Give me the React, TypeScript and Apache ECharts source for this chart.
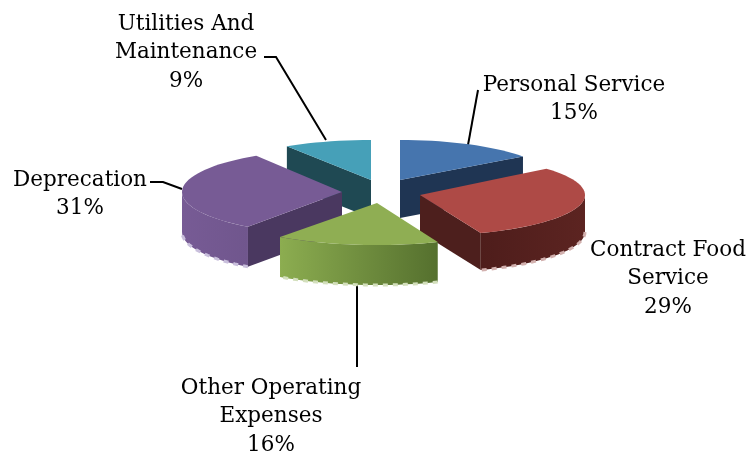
import React, { useEffect, useRef } from "react";
import * as echarts from "echarts";

const categories = ["Personal Service", "Contract Food Service", "Other Operating Expenses", "Deprecation", "Utilities And Maintenance"];
const labelLines = [
  ["Personal Service"],
  ["Contract Food", "Service"],
  ["Other Operating", "Expenses"],
  ["Deprecation"],
  ["Utilities And", "Maintenance"],
];
const values = [15, 29, 16, 31, 9];

const topColors = ["#4675ae", "#ae4a46", "#8fae53", "#775b95", "#46a0b8"];
const cutColors = ["#1f3553", "#4d1f1d", "#56702f", "#4a3860", "#1f4953"];
const wallLeft = ["#6f8bab", "#4e1d1b", "#8cad50", "#775b95", "#5f8f9c"];
const wallRight = ["#6f8bab", "#5c2421", "#55702e", "#70568d", "#5f8f9c"];
const rimColors = ["#8da3bd", "#d2b0ae", "#d3dfbc", "#c9bfdc", "#9fc4cf"];

const geometry = [
  { cx: 400, cy: 180, rx: 152, ry: 40, h: 38, tilt: 0 },
  { cx: 420, cy: 195, rx: 165, ry: 41, h: 37, tilt: -4 },
  { cx: 377, cy: 203, rx: 165, ry: 42, h: 40, tilt: 0 },
  { cx: 342, cy: 192, rx: 160, ry: 43, h: 40, tilt: 0 },
  { cx: 371, cy: 180, rx: 157, ry: 40, h: 38, tilt: 0 },
];
const drawOrder = [4, 0, 3, 1, 2];

const labelPlaces = [
  { x: 574, y: 83 },
  { x: 668, y: 248 },
  { x: 271, y: 386 },
  { x: 80, y: 178 },
  { x: 186, y: 22 },
];
const leaderPaths = [
  [[478, 90], [468, 145]],
  [],
  [[357, 281], [357, 367]],
  [[150, 182], [163, 182], [182, 189]],
  [[264, 57], [276, 57], [326, 140]],
];

const total = values.reduce((a, b) => a + b, 0);
const starts: number[] = [];
values.reduce((acc, v, i) => {
  starts[i] = acc;
  return acc + v;
}, 0);

const FONT = '"DejaVu Serif", serif';
const LINE_STEP = 28.7;

function pt(g: any, deg: number, dy = 0): number[] {
  const r = (deg * Math.PI) / 180;
  return [g.cx + g.rx * Math.sin(r), g.cy - g.ry * Math.cos(r) + dy];
}

function renderSlice(_params: any, api: any) {
  const i = api.value(0);
  const v = api.value(1);
  const g = geometry[i];
  const a = (starts[i] / total) * 360 + g.tilt;
  const b = (starts[i] / total) * 360 + (v / total) * 360;
  const arc = (from: number, to: number, dy = 0) => {
    const pts: number[][] = [];
    const n = Math.max(2, Math.ceil((to - from) / 3));
    for (let k = 0; k <= n; k++) pts.push(pt(g, from + ((to - from) * k) / n, dy));
    return pts;
  };
  const children: any[] = [];
  const visFrom = Math.max(a, 90);
  const visTo = Math.min(b, 270);
  if (visTo > visFrom) {
    const front = arc(visFrom, visTo);
    const back = arc(visFrom, visTo, g.h).reverse();
    children.push({
      type: "polygon",
      shape: { points: front.concat(back) },
      style: {
        fill: new echarts.graphic.LinearGradient(1, 0, 0, 0, [
          { offset: 0, color: wallRight[i] },
          { offset: 1, color: wallLeft[i] },
        ]),
      },
    });
    children.push({
      type: "polyline",
      shape: { points: arc(visFrom, visTo, g.h) },
      style: { stroke: rimColors[i], lineWidth: 3, lineDash: [5, 5], fill: "none" },
    });
  }
  const cut = (deg: number, sign: number) => {
    const n = (((deg + sign * 90) % 360) + 360) % 360;
    if (Math.cos((n * Math.PI) / 180) >= 0) return;
    const p = pt(g, deg);
    children.push({
      type: "polygon",
      shape: { points: [[g.cx, g.cy], p, [p[0], p[1] + g.h], [g.cx, g.cy + g.h]] },
      style: { fill: cutColors[i] },
    });
  };
  cut(a, -1);
  cut(b, 1);
  children.push({
    type: "polygon",
    shape: { points: [[g.cx, g.cy]].concat(arc(a, b)) },
    style: { fill: topColors[i] },
  });
  return { type: "group", children };
}

export default function App() {
  const ref = useRef<HTMLDivElement>(null);
  useEffect(() => {
    document.body.style.margin = "0";
    const chart = echarts.init(ref.current!, undefined, { renderer: "svg" });
    const graphics: any[] = [];
    labelLines.forEach((lines, i) => {
      lines.concat(`${values[i]}%`).forEach((t, k) => {
        graphics.push({
          type: "text",
          x: labelPlaces[i].x,
          y: labelPlaces[i].y + k * LINE_STEP,
          style: {
            text: t,
            fill: "#000",
            font: `21.5px ${FONT}`,
            align: "center",
            verticalAlign: "middle",
          },
        });
      });
      if (leaderPaths[i].length) {
        graphics.push({
          type: "polyline",
          shape: { points: leaderPaths[i] },
          style: { stroke: "#000", lineWidth: 2, fill: "none" },
        });
      }
    });
    chart.setOption({
      animation: false,
      backgroundColor: "#fff",
      series: [
        {
          type: "custom",
          coordinateSystem: "none",
          renderItem: renderSlice,
          data: drawOrder.map((i) => ({ name: categories[i], value: [i, values[i]] })),
        },
      ],
      graphic: graphics,
    });
    return () => chart.dispose();
  }, []);
  return <div ref={ref} style={{ width: 749, height: 455, filter: "blur(0.5px)" }} />;
}
